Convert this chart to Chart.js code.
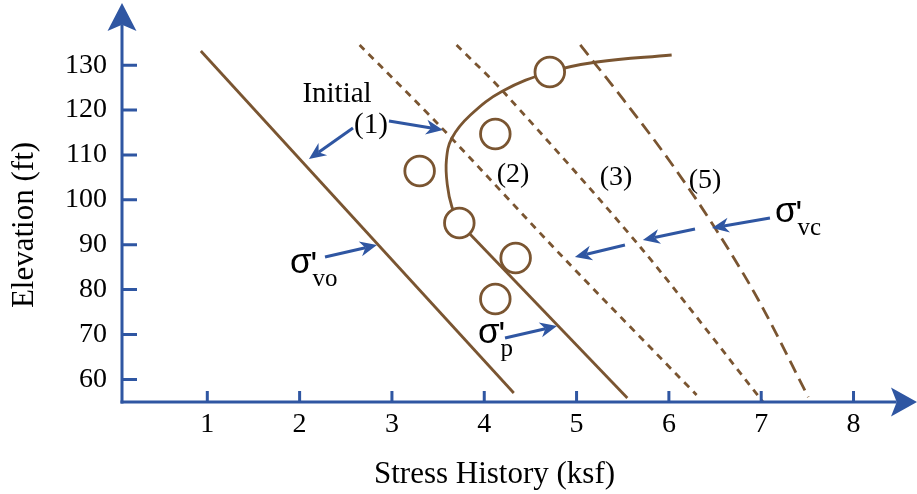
<!DOCTYPE html>
<html>
<head>
<meta charset="utf-8">
<script src="https://cdn.jsdelivr.net/npm/chart.js@4.4.0/dist/chart.umd.min.js"></script>
<style>
html, body { margin: 0; padding: 0; background: #fff; }
#chart { display: block; }
</style>
</head>
<body>
<canvas id="chart" width="917" height="494"></canvas>
<script>
// tick labels
var xTicks = [1, 2, 3, 4, 5, 6, 7, 8];
var yTicks = [60, 70, 80, 90, 100, 110, 120, 130];

// initial effective stress, sigma'vo  [stress ksf, elevation ft]
var sigmaVo = [[0.93, 133.15], [4.32, 56.96]];

// preconsolidation stress, sigma'p (curved top part, then straight part)
var sigmaPCurve = [[6.03, 132.26], [5.22, 130.70], [4.71, 128.47], [4.20, 124.24], [3.85, 118.89],
                   [3.65, 113.77], [3.59, 108.87], [3.60, 103.30], [3.65, 98.40], [3.73, 94.84]];
var sigmaPLine = [[3.73, 94.84], [5.55, 55.85]];

// current effective stress lines, sigma'vc
var stage2 = [[2.65, 134.49], [3.54, 116.0], [4.85, 87.26], [6.30, 56.52]];
var stage3 = [[3.70, 134.49], [4.22, 123.79], [5.69, 89.49], [7.02, 54.96]];
var stage5 = [[5.04, 134.49], [5.51, 122.24], [6.00, 108.87], [6.50, 93.72], [6.97, 77.68], [7.51, 56.07]];

// test results (open circles)
var tests = [[4.71, 128.47], [4.12, 114.66], [3.30, 106.42], [3.73, 94.84], [4.34, 87.04], [4.12, 77.90]];

// annotation arrows [tailX, tailY, tipX, tipY] in data units
var pointers = [
    [2.578, 116.0, 2.101, 109.09],
    [2.968, 117.56, 3.553, 115.55],
    [2.275, 87.26, 2.838, 89.93],
    [4.225, 69.22, 4.788, 71.89],
    [7.095, 95.95, 6.467, 93.72],
    [6.283, 93.50, 5.718, 91.05],
    [5.524, 89.93, 4.982, 87.26]
];

// plain labels [text, x, y(baseline), size]
var labels = [
    ["Initial", 2.405, 121.79, 29],
    ["(1)", 2.773, 114.88, 29],
    ["(2)", 4.311, 103.97, 28],
    ["(3)", 5.427, 103.30, 28],
    ["(5)", 6.391, 102.63, 28]
];

// sigma labels [subscript, x(left), y(baseline)]
var sigmas = [
    ["vo", 1.895, 83.70],
    ["p", 3.932, 68.10],
    ["vc", 7.149, 95.06]
];

var brown = '#7a5531';
var blue = '#2f56a2';
var serif = "'Liberation Serif', 'Times New Roman', serif";
var sans = "'Liberation Sans', Arial, sans-serif";

function pts(arr) {
    return arr.map(function (p) { return { x: p[0], y: p[1] }; });
}

function lineSet(arr, dash, tension, mode) {
    return {
        data: pts(arr),
        showLine: true,
        borderColor: brown,
        borderWidth: 2.8,
        borderDash: dash,
        pointRadius: 0,
        tension: tension,
        cubicInterpolationMode: mode || 'default',
        fill: false,
        clip: false,
        order: 1
    };
}

function arrow(ctx, x1, y1, x2, y2, len, half, notch, lw) {
    var a = Math.atan2(y2 - y1, x2 - x1);
    ctx.save();
    ctx.strokeStyle = blue;
    ctx.fillStyle = blue;
    ctx.lineWidth = lw;
    ctx.beginPath();
    ctx.moveTo(x1, y1);
    ctx.lineTo(x2 - Math.cos(a) * len * notch, y2 - Math.sin(a) * len * notch);
    ctx.stroke();
    ctx.translate(x2, y2);
    ctx.rotate(a);
    ctx.beginPath();
    ctx.moveTo(0, 0);
    ctx.lineTo(-len, -half);
    ctx.lineTo(-len * notch, 0);
    ctx.lineTo(-len, half);
    ctx.closePath();
    ctx.fill();
    ctx.restore();
}

var axesPlugin = {
    id: 'axes',
    afterDraw: function (chart) {
        var ctx = chart.ctx;
        var area = chart.chartArea;
        var xs = chart.scales.x, ys = chart.scales.y;
        ctx.save();
        ctx.strokeStyle = blue;
        ctx.lineWidth = 3;
        // tick marks
        ctx.beginPath();
        yTicks.forEach(function (v) {
            var py = ys.getPixelForValue(v);
            ctx.moveTo(area.left, py);
            ctx.lineTo(area.left + 15, py);
        });
        xTicks.forEach(function (v) {
            var px = xs.getPixelForValue(v);
            ctx.moveTo(px, area.bottom);
            ctx.lineTo(px, area.bottom - 11);
        });
        ctx.stroke();
        ctx.restore();
        // axis lines with arrows
        arrow(ctx, area.left, area.bottom + 1.5, area.left, 3, 28, 14.5, 0.78, 3);
        arrow(ctx, area.left - 1.5, area.bottom, 917, area.bottom, 26, 14.5, 0.78, 3);
    }
};

var notesPlugin = {
    id: 'notes',
    afterDraw: function (chart) {
        var ctx = chart.ctx;
        var xs = chart.scales.x, ys = chart.scales.y;
        pointers.forEach(function (p) {
            arrow(ctx, xs.getPixelForValue(p[0]), ys.getPixelForValue(p[1]),
                xs.getPixelForValue(p[2]), ys.getPixelForValue(p[3]), 17, 7.5, 0.7, 3);
        });
        ctx.save();
        ctx.fillStyle = '#000';
        ctx.textBaseline = 'alphabetic';
        ctx.textAlign = 'center';
        labels.forEach(function (l) {
            ctx.font = l[3] + 'px ' + serif;
            ctx.fillText(l[0], xs.getPixelForValue(l[1]), ys.getPixelForValue(l[2]));
        });
        ctx.textAlign = 'left';
        sigmas.forEach(function (s) {
            var px = xs.getPixelForValue(s[1]);
            var py = ys.getPixelForValue(s[2]);
            ctx.font = '35px ' + sans;
            ctx.fillText('σ', px, py);
            var w = ctx.measureText('σ').width;
            ctx.fillText("'", px + w - 1, py + 3);
            ctx.font = '25px ' + serif;
            ctx.fillText(s[0], px + w + 1, py + 13);
        });
        ctx.restore();
    }
};

new Chart(document.getElementById('chart'), {
    type: 'scatter',
    data: {
        datasets: [
            {
                data: pts(tests),
                pointRadius: 14.8,
                pointBorderWidth: 2.8,
                pointBorderColor: brown,
                pointBackgroundColor: '#fff',
                showLine: false,
                clip: false,
                order: 0
            },
            lineSet(sigmaVo, [], 0),
            lineSet(sigmaPCurve, [], 0.4),
            lineSet(sigmaPLine, [], 0),
            lineSet(stage2, [7, 6], 0.3),
            lineSet(stage3, [7, 6], 0.3),
            lineSet(stage5, [13, 7], 0, 'monotone')
        ]
    },
    options: {
        responsive: false,
        animation: false,
        devicePixelRatio: 1,
        layout: { padding: { top: 48, right: 50, left: 0, bottom: 0 } },
        plugins: {
            legend: { display: false },
            tooltip: { enabled: false }
        },
        scales: {
            x: {
                type: 'linear',
                min: 0.076,
                max: 8.146,
                grid: { display: false, drawTicks: false },
                border: { display: false },
                afterBuildTicks: function (s) { s.ticks = xTicks.map(function (v) { return { value: v }; }); },
                afterFit: function (s) { s.height = 92; },
                ticks: {
                    padding: 6,
                    color: '#000',
                    autoSkip: false,
                    maxRotation: 0,
                    font: { family: serif, size: 28 }
                },
                title: {
                    display: true,
                    text: 'Stress History (ksf)',
                    color: '#000',
                    font: { family: serif, size: 31 },
                    padding: { top: 0, bottom: 1 }
                }
            },
            y: {
                type: 'linear',
                min: 54.96,
                max: 133.82,
                grid: { display: false, drawTicks: false },
                border: { display: false },
                afterBuildTicks: function (s) { s.ticks = yTicks.map(function (v) { return { value: v }; }); },
                afterFit: function (s) { s.width = 122; },
                ticks: {
                    padding: 15,
                    color: '#000',
                    autoSkip: false,
                    font: { family: serif, size: 28 }
                },
                title: {
                    display: true,
                    text: 'Elevation (ft)',
                    color: '#000',
                    font: { family: serif, size: 31 },
                    padding: { top: 6, bottom: 0 }
                }
            }
        }
    },
    plugins: [axesPlugin, notesPlugin]
});
</script>
</body>
</html>
